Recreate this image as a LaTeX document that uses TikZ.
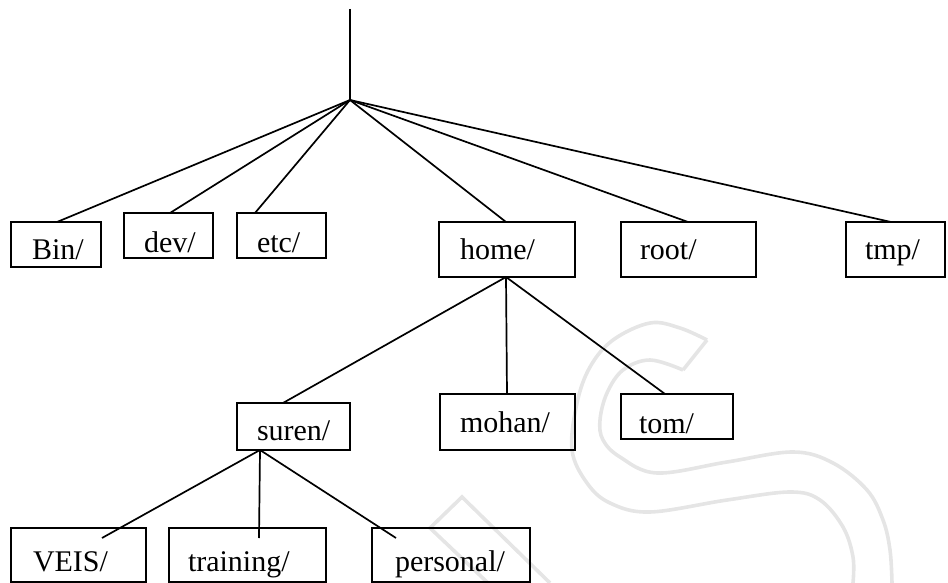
\documentclass[tikz,border=0pt]{standalone}
\usepackage{fontspec}
\setmainfont{Liberation Serif}
\begin{document}
\begin{tikzpicture}[x=1pt,y=-1pt,
  dirbox/.style={draw=black,line width=1.7pt,inner sep=0pt,outer sep=0pt,anchor=north west},
  dirlbl/.style={inner sep=0pt,outer sep=0pt,anchor=base west,font=\fontsize{30}{32}\selectfont},
  link/.style={draw=black,line width=1.7pt},
  wmark/.style={draw=black!10,line width=3.6pt,line join=miter}]
\useasboundingbox (0,0) rectangle (948,583);
% watermark
\draw[wmark] plot[smooth,tension=0.6] coordinates {(707,340) (680,328) (650,323) (613,340) (590,367) (577,403) (572,450) (587,483) (610,503) (650,512) (727,500) (790,492) (820,500) (843,527) (853,557) (853,583)};
\draw[wmark] plot[smooth,tension=0.6] coordinates {(683,370) (650,360) (623,370) (607,393) (600,420) (603,440) (620,457) (657,473) (727,462) (793,452) (833,463) (867,490) (883,520) (890,550) (892,583)};
\draw[wmark] (707,340) -- (683,370);
\draw[wmark] (488,583) -- (430,528) -- (462,497) -- (550,583);
% root stem
\coordinate (top) at (350,9);
\coordinate (hub) at (350,100);
\draw[link] (top) -- (hub);
% level 1
\node[dirbox,minimum width=90pt,minimum height=45pt] (bin) at (11,222) {};
\node[dirbox,minimum width=89pt,minimum height=45pt] (dev) at (124,213) {};
\node[dirbox,minimum width=89pt,minimum height=45pt] (etc) at (237,213) {};
\node[dirbox,minimum width=136pt,minimum height=55pt] (home) at (439,222) {};
\node[dirbox,minimum width=135pt,minimum height=55pt] (root) at (621,222) {};
\node[dirbox,minimum width=99pt,minimum height=55pt] (tmp) at (846,222) {};
\node[dirlbl] (binL) at (32,259) {Bin/};
\node[dirlbl] (devL) at (144,252) {dev/};
\node[dirlbl] (etcL) at (257,252) {etc/};
\node[dirlbl] (homeL) at (460,259) {home/};
\node[dirlbl] (rootL) at (640,259) {root/};
\node[dirlbl] (tmpL) at (865,259) {tmp/};
\draw[link] (hub) -- ([xshift=46pt]bin.north west);
\draw[link] (hub) -- ([xshift=46pt]dev.north west);
\draw[link] (hub) -- ([xshift=18pt]etc.north west);
\draw[link] (hub) -- ([xshift=67pt]home.north west);
\draw[link] (hub) -- ([xshift=67pt]root.north west);
\draw[link] (hub) -- ([xshift=45pt]tmp.north west);
% level 2
\node[dirbox,minimum width=113pt,minimum height=47pt] (suren) at (237,403) {};
\node[dirbox,minimum width=135pt,minimum height=56pt] (mohan) at (440,394) {};
\node[dirbox,minimum width=112pt,minimum height=45pt] (tom) at (621,394) {};
\node[dirlbl] (surenL) at (257,440) {suren/};
\node[dirlbl] (mohanL) at (460,432) {mohan/};
\node[dirlbl] (tomL) at (639,433) {tom/};
\coordinate (homebot) at ([xshift=67pt]home.south west);
\draw[link] (homebot) -- ([xshift=46pt]suren.north west);
\draw[link] (homebot) -- ([xshift=67pt]mohan.north west);
\draw[link] (homebot) -- ([xshift=44pt]tom.north west);
% level 3
\node[dirbox,minimum width=135pt,minimum height=54pt] (veis) at (11,528) {};
\node[dirbox,minimum width=157pt,minimum height=54pt] (training) at (169,528) {};
\node[dirbox,minimum width=158pt,minimum height=54pt] (personal) at (372,528) {};
\node[dirlbl] (veisL) at (33,571) {VEIS/};
\node[dirlbl] (trainingL) at (188,571) {training/};
\node[dirlbl] (personalL) at (395,571) {personal/};
\coordinate (surenbot) at ([xshift=23pt]suren.south west);
\draw[link] (surenbot) -- ([xshift=91pt,yshift=-10pt]veis.north west);
\draw[link] (surenbot) -- ([xshift=90pt,yshift=-10pt]training.north west);
\draw[link] (surenbot) -- ([xshift=24pt,yshift=-10pt]personal.north west);
\end{tikzpicture}
\end{document}
